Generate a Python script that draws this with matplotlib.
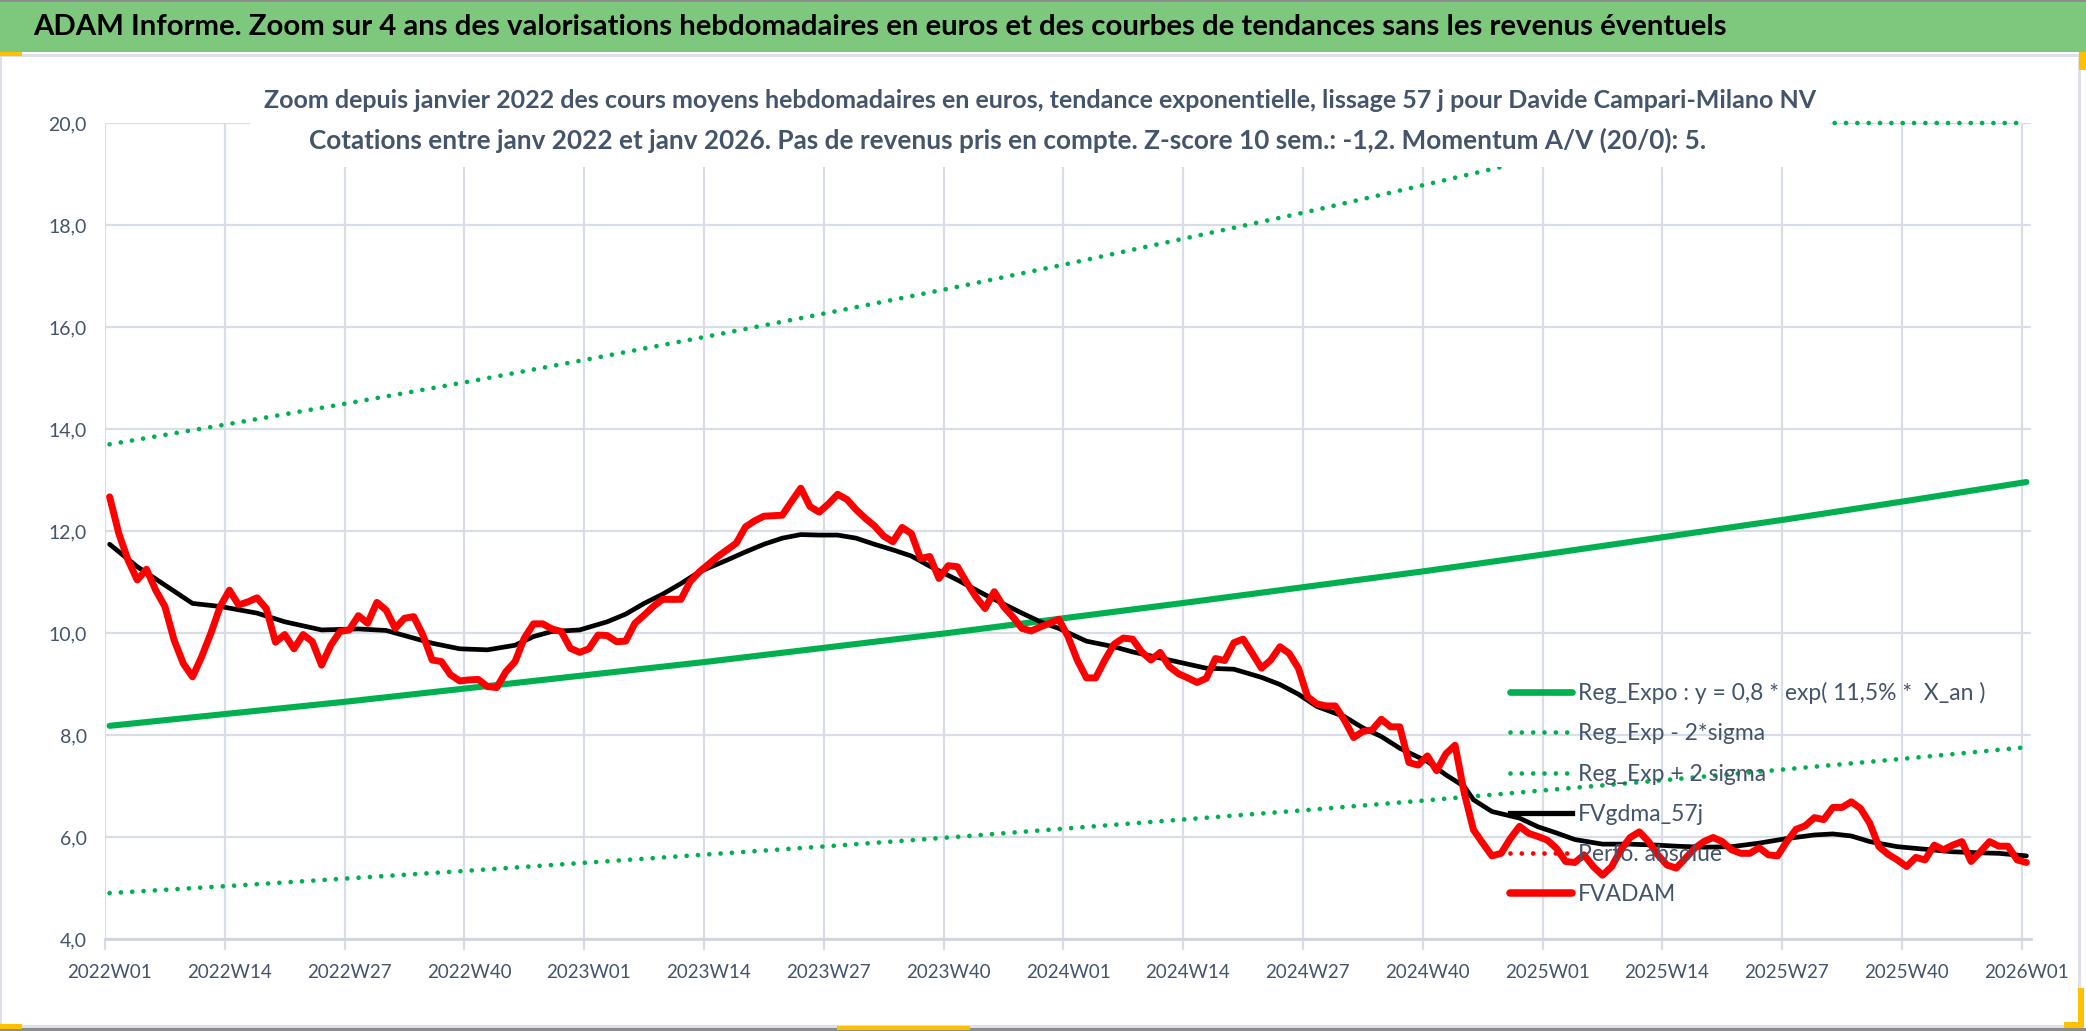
import numpy as np
import matplotlib
matplotlib.use("Agg")
import matplotlib.pyplot as plt
from matplotlib.lines import Line2D
from matplotlib.patches import Rectangle

plt.rcParams['font.family'] = ['Lato', 'DejaVu Sans']

# --- data --------------------------------------------------------------

title = ("ADAM Informe. Zoom sur 4 ans des valorisations hebdomadaires en euros "
         "et des courbes de tendances sans les revenus éventuels")
subtitle_1 = ("Zoom depuis janvier 2022 des cours moyens hebdomadaires en euros, "
              "tendance exponentielle, lissage 57 j pour Davide Campari-Milano NV")
subtitle_2 = ("Cotations entre janv 2022 et janv 2026. Pas de revenus pris en compte. "
              "Z-score 10 sem.: -1,2. Momentum A/V (20/0): 5.")

tick_labels = ['2022W01', '2022W14', '2022W27', '2022W40',
               '2023W01', '2023W14', '2023W27', '2023W40',
               '2024W01', '2024W14', '2024W27', '2024W40',
               '2025W01', '2025W14', '2025W27', '2025W40',
               '2026W01']

# FVADAM, weekly average price (EUR)
fv_2022 = [12.67, 11.95, 11.43, 11.04, 11.25, 10.84, 10.52, 9.86, 9.40, 9.14,
           9.54, 10.00, 10.52, 10.84, 10.55, 10.61, 10.69, 10.48, 9.82, 9.97,
           9.69, 9.97, 9.83, 9.37, 9.76, 10.03, 10.06, 10.34, 10.19, 10.60,
           10.45, 10.09, 10.29, 10.32, 9.96, 9.47, 9.44, 9.18, 9.06, 9.08,
           9.09, 8.95, 8.93, 9.24, 9.44, 9.90, 10.18, 10.18, 10.08, 10.03,
           9.70, 9.62]
fv_2023 = [9.69, 9.96, 9.95, 9.83, 9.84, 10.19, 10.35, 10.52, 10.66, 10.66,
           10.66, 11.01, 11.20, 11.35, 11.50, 11.63, 11.76, 12.08, 12.20, 12.29,
           12.30, 12.31, 12.58, 12.84, 12.48, 12.37, 12.53, 12.72, 12.62, 12.42,
           12.25, 12.10, 11.90, 11.79, 12.07, 11.95, 11.46, 11.50, 11.07, 11.32,
           11.30, 10.99, 10.71, 10.48, 10.81, 10.52, 10.32, 10.09, 10.04, 10.12,
           10.19, 10.27]
fv_2024 = [9.93, 9.47, 9.12, 9.12, 9.47, 9.78, 9.90, 9.88, 9.63, 9.47,
           9.62, 9.34, 9.20, 9.12, 9.03, 9.11, 9.50, 9.46, 9.81, 9.88,
           9.60, 9.31, 9.47, 9.73, 9.60, 9.31, 8.75, 8.61, 8.57, 8.57,
           8.29, 7.95, 8.07, 8.10, 8.31, 8.16, 8.16, 7.46, 7.41, 7.59,
           7.30, 7.63, 7.80, 6.86, 6.14, 5.88, 5.63, 5.68, 5.97, 6.21,
           6.07, 6.01]
fv_2025 = [5.94, 5.78, 5.52, 5.50, 5.65, 5.42, 5.25, 5.42, 5.75, 5.99,
           6.10, 5.91, 5.65, 5.45, 5.39, 5.58, 5.78, 5.91, 5.99, 5.91,
           5.75, 5.68, 5.68, 5.79, 5.65, 5.63, 5.91, 6.15, 6.22, 6.38,
           6.34, 6.58, 6.58, 6.69, 6.56, 6.27, 5.81, 5.66, 5.55, 5.42,
           5.60, 5.55, 5.84, 5.75, 5.84, 5.91, 5.52, 5.71, 5.91, 5.82,
           5.82, 5.55]
fv_2026 = [5.50]

# FVgdma_57j, smoothed curve (week index, value)
gdma_weeks = [0, 3, 6, 9, 12, 16, 19, 23, 27, 30, 33, 35, 38, 41, 44, 46, 48, 51,
              54, 56, 58, 60, 62, 64, 67, 69, 71, 73, 75, 77, 79, 81, 83, 85, 87,
              89, 92, 95, 97, 99, 101, 103, 106, 109, 111, 115, 118, 119, 122,
              125, 127, 129, 131, 134, 136, 138, 140, 143, 145, 147, 148, 150,
              153, 155, 157, 159, 162, 165, 168, 170, 173, 176, 179, 182, 185,
              187, 189, 191, 194, 197, 200, 203, 205, 208]
gdma_vals = [11.74, 11.30, 10.94, 10.58, 10.52, 10.39, 10.22, 10.06, 10.08, 10.05,
             9.90, 9.80, 9.69, 9.67, 9.76, 9.93, 10.03, 10.06,
             10.22, 10.37, 10.58, 10.76, 10.97, 11.20, 11.43, 11.59, 11.74, 11.86,
             11.93, 11.92, 11.92, 11.86, 11.74, 11.63, 11.51,
             11.31, 11.04, 10.75, 10.57, 10.39, 10.22, 10.09, 9.84, 9.73, 9.63,
             9.47, 9.35, 9.31, 9.29,
             9.13, 8.99, 8.80, 8.56, 8.36, 8.14, 7.97, 7.74, 7.48, 7.22, 6.99,
             6.73, 6.50,
             6.37, 6.20, 6.08, 5.95, 5.86, 5.86, 5.84, 5.82, 5.80, 5.81, 5.88,
             5.97, 6.04,
             6.06, 6.02, 5.91, 5.81, 5.76, 5.71, 5.69, 5.68, 5.63]

# exponential regression and +/- 2 sigma bands, read at each labelled week
reg_expo = [8.18, 8.42, 8.66, 8.92, 9.18, 9.44, 9.72, 10.00, 10.30,
            10.60, 10.91, 11.22, 11.55, 11.89, 12.23, 12.59, 12.96]
reg_low = [4.90, 5.04, 5.19, 5.34, 5.50, 5.66, 5.82, 5.99, 6.17,
           6.35, 6.53, 6.72, 6.92, 7.12, 7.33, 7.54, 7.76]
reg_high = [13.70, 14.10, 14.51, 14.93, 15.37, 15.82, 16.28, 16.75, 17.24,
            17.75, 18.26, 18.80, 19.35, 19.91, 20.49, 21.09, 21.70]

# --- styling ---------------------------------------------------------------
W, H = 2086, 1031
TXT = '#44546A'
GRID = '#D9DEE6'
GREEN = '#00B050'
RED = '#FF0000'

fvadam = fv_2022 + fv_2023 + fv_2024 + fv_2025 + fv_2026
weeks = np.arange(len(fvadam))
tick_pos = np.arange(0, len(fvadam), 13)
grid_pos = tick_pos - 0.5

fig = plt.figure(figsize=(W / 100, H / 100), dpi=100)


def px_rect(x0, y0, x1, y1, **kw):
    return Rectangle((x0 / W, 1 - y1 / H), (x1 - x0) / W, (y1 - y0) / H,
                     transform=fig.transFigure, **kw)


ax = fig.add_axes([105 / W, 1 - 939 / H, (2031 - 105) / W, (939 - 123) / H])

dots = dict(linestyle=(0, (0.001, 2.4)), dash_capstyle='round', lw=3.4)

ax.plot(tick_pos, reg_expo, color=GREEN, lw=4.4, solid_capstyle='round', zorder=3)
ax.plot(tick_pos, reg_low, color=GREEN, zorder=3, **dots)
ax.plot(tick_pos, np.minimum(reg_high, 20.0), color=GREEN, zorder=3,
        clip_on=False, **dots)
ax.plot(gdma_weeks, gdma_vals, color='black', lw=3.4, solid_capstyle='round',
        solid_joinstyle='round', zorder=4)
ax.plot(weeks, fvadam, color=RED, lw=5.0, solid_capstyle='round',
        solid_joinstyle='round', zorder=5)

ax.set_xlim(-0.5, len(fvadam) - 0.5)
ax.set_ylim(4, 20)
yt = np.arange(4, 21, 2)
ax.set_yticks(yt)
ax.set_yticklabels([f"{v:.1f}".replace('.', ',') for v in yt])
ax.set_xticks(tick_pos)
ax.set_xticklabels(tick_labels)
ax.set_xticks(grid_pos, minor=True)

ax.grid(which='major', axis='y', color=GRID, lw=1.6, zorder=0)
ax.grid(which='minor', axis='x', color=GRID, lw=1.6, zorder=0)
ax.set_axisbelow(True)
ax.tick_params(axis='y', length=0, pad=13, labelsize=14, labelcolor=TXT)
ax.tick_params(axis='x', which='major', length=0, pad=18, labelsize=13.5,
               labelcolor=TXT)
ax.tick_params(axis='x', which='minor', length=8, width=1.6, color=GRID)
for side in ['top', 'right', 'left']:
    ax.spines[side].set_visible(False)
ax.spines['bottom'].set_color('#D0D5DD')
ax.spines['bottom'].set_linewidth(2)

handles = [
    Line2D([], [], color=GREEN, lw=4.8, solid_capstyle='round'),
    Line2D([], [], color=GREEN, **dots),
    Line2D([], [], color=GREEN, **dots),
    Line2D([], [], color='black', lw=3.8),
    Line2D([], [], color=RED, **dots),
    Line2D([], [], color=RED, lw=5.4, solid_capstyle='round'),
]
labels = ['Reg_Expo : y = 0,8 * exp( 11,5% *  X_an )',
          'Reg_Exp - 2*sigma',
          'Reg_Exp + 2 sigma',
          'FVgdma_57j',
          'Perfo. absolue',
          'FVADAM']
leg = fig.legend(handles, labels, loc='upper left',
                 bbox_to_anchor=(1510 / W, 1 - 682 / H), frameon=False,
                 fontsize=16.5, handlelength=2.7, handletextpad=0.27,
                 labelspacing=0.84, borderpad=0, borderaxespad=0)
for t in leg.get_texts():
    t.set_color(TXT)
leg.set_zorder(10)

# white subtitle box hiding the top of the plot
fig.add_artist(px_rect(250, 57, 1830, 167, facecolor='white', edgecolor='none',
                       zorder=6))
fig.text(1040 / W, 1 - 100 / H, subtitle_1, ha='center', va='center',
         fontsize=18, fontweight='bold', color=TXT, zorder=7)
fig.text(1008 / W, 1 - 140 / H, subtitle_2, ha='center', va='center',
         fontsize=18.8, fontweight='bold', color=TXT, zorder=7)

# green title band and frame
fig.add_artist(px_rect(0, 0, W, 52, facecolor='#7DC87D', edgecolor='none', zorder=6))
fig.add_artist(px_rect(0, 0, W, 2, facecolor='#8C8C8C', edgecolor='none', zorder=7))
fig.add_artist(px_rect(0, 54, 2080, 57, facecolor='#DDE0E6', edgecolor='none', zorder=6))
fig.add_artist(px_rect(0, 1025, 2080, 1028, facecolor='#DDE0E6', edgecolor='none', zorder=6))
fig.add_artist(px_rect(0, 1028, W, H, facecolor='#8C8C8C', edgecolor='none', zorder=6))
fig.add_artist(px_rect(0, 54, 2, 1028, facecolor='#DDE0E6', edgecolor='none', zorder=6))
fig.add_artist(px_rect(2078, 54, 2081, 1028, facecolor='#DDE0E6', edgecolor='none', zorder=6))
fig.text(33 / W, 1 - 27 / H, title, ha='left', va='center', fontsize=21.2,
         fontweight='bold', color='black', zorder=8)

# selection handles
for box in [(0, 52, 22, 56), (2079, 52, 2086, 70), (0, 1024, 22, 1029),
            (837, 1026, 970, 1030), (2064, 1022, 2084, 1028), (2078, 988, 2084, 1028)]:
    fig.add_artist(px_rect(*box, facecolor='#FFC000', edgecolor='none', zorder=9))

fig.savefig('out.png', dpi=100, facecolor='white')
